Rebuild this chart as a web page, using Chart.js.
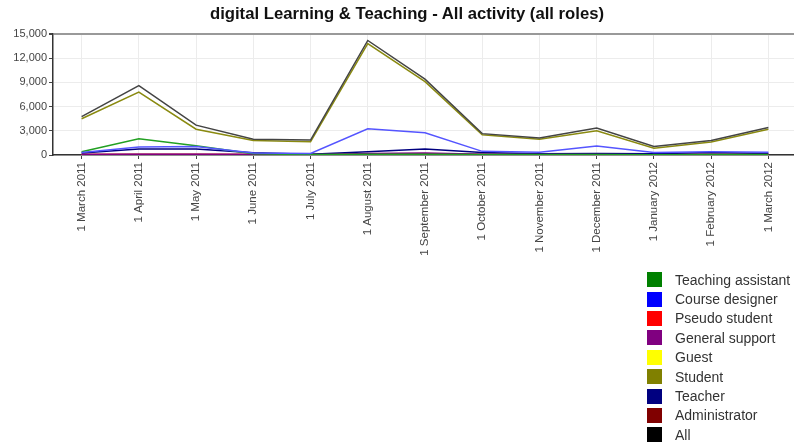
<!DOCTYPE html>
<html>
<head>
<meta charset="utf-8">
<script src="https://cdn.jsdelivr.net/npm/chart.js@4"></script>
<style>
  html, body { margin: 0; padding: 0; background: #fff; }
  #wrap { position: relative; width: 794px; height: 443px; overflow: hidden; }
  #title { position: absolute; left: 0; top: 4px; width: 814px; line-height: 20px; text-align: center;
           font: bold 16.7px "Liberation Sans", Arial, sans-serif; color: #111; white-space: nowrap; }
  #legend { position: absolute; left: 647px; top: 270px; font: 14px "Liberation Sans", Arial, sans-serif; color: #333; white-space: nowrap; }
  #legend div { height: 19.4px; display: flex; align-items: center; }
  #legend span.box { width: 15px; height: 15px; margin-right: 13px; display: inline-block; }
</style>
</head>
<body>
<div id="wrap">
  <canvas id="activity-chart" width="814" height="443"></canvas>
  <div id="title">digital Learning &amp; Teaching - All activity (all roles)</div>
  <div id="legend"></div>
</div>
<script>
const months = ['1 March 2011', '1 April 2011', '1 May 2011', '1 June 2011', '1 July 2011',
  '1 August 2011', '1 September 2011', '1 October 2011', '1 November 2011',
  '1 December 2011', '1 January 2012', '1 February 2012', '1 March 2012'];

const teachingAssistant = [400, 2000, 1150, 150, 50, 80, 80, 50, 50, 50, 30, 50, 50];
const courseDesigner    = [300, 1000, 1050, 250, 200, 3250, 2750, 450, 350, 1100, 300, 400, 350];
const pseudoStudent     = [0, 0, 0, 0, 0, 0, 0, 0, 0, 0, 0, 0, 0];
const generalSupport    = [50, 100, 100, 50, 30, 200, 250, 100, 50, 50, 30, 50, 50];
const guest             = [0, 0, 0, 0, 0, 0, 0, 0, 0, 0, 0, 0, 0];
const student           = [4500, 7800, 3200, 1800, 1650, 13800, 9100, 2500, 1950, 3000, 850, 1600, 3200];
const teacher           = [250, 750, 750, 280, 100, 400, 750, 300, 150, 200, 150, 300, 200];
const administrator     = [80, 80, 80, 80, 80, 80, 80, 80, 80, 80, 80, 80, 80];
const allActivity       = [4750, 8600, 3700, 1950, 1850, 14200, 9400, 2650, 2100, 3350, 1050, 1800, 3400];

const yTicks = [0, 3000, 6000, 9000, 12000, 15000];

function line(label, data, color, order) {
  return {
    label: label,
    data: data,
    borderColor: color,
    backgroundColor: color,
    borderWidth: 1.5,
    pointRadius: 0,
    tension: 0,
    order: order
  };
}

const ctx = document.getElementById('activity-chart').getContext('2d');

const activityChart = new Chart(ctx, {
  type: 'line',
  data: {
    labels: months,
    datasets: [
      line('Teaching assistant', teachingAssistant, '#22a022', 3),
      line('Course designer',    courseDesigner,    '#5555ff', 2),
      line('Pseudo student',     pseudoStudent,     '#ff0000', 5),
      line('General support',    generalSupport,    '#800080', 4),
      line('Guest',              guest,             '#ffff00', 6),
      line('Student',            student,           '#8a8a10', 1),
      line('Teacher',            teacher,           '#000080', 4),
      line('Administrator',      administrator,     '#c02020', 5),
      line('All',                allActivity,       '#444444', 0)
    ]
  },
  options: {
    responsive: false,
    animation: false,
    layout: { padding: { top: 34, right: 17, bottom: 0, left: 0 } },
    plugins: {
      legend: { display: false },
      tooltip: { enabled: false },
      title: { display: false }
    },
    scales: {
      x: {
        offset: true,
        afterFit: s => { s.height = 288; },
        ticks: {
          color: '#444',
          font: { family: '"Liberation Sans", Arial, sans-serif', size: 11.5 },
          minRotation: 90, maxRotation: 90,
          autoSkip: false,
          padding: 3
        },
        grid: { color: '#ececec', tickColor: '#444', tickLength: 4 },
        border: { color: '#333', width: 1.5 }
      },
      y: {
        min: 0, max: 15000,
        afterFit: s => { s.width = 53; },
        afterBuildTicks: s => { s.ticks = yTicks.map(v => ({ value: v })); },
        ticks: {
          color: '#444',
          padding: 2,
          font: { family: '"Liberation Sans", Arial, sans-serif', size: 11 },
          callback: v => v.toLocaleString('en-US')
        },
        grid: {
          color: c => c.tick && c.tick.value === 15000 ? '#999' : '#ececec',
          lineWidth: c => c.tick && c.tick.value === 15000 ? 2 : 1,
          tickColor: '#444',
          tickLength: 4
        },
        border: { color: '#333', width: 1.5 }
      }
    }
  }
});

// legend built from the chart's own datasets
const legendEl = document.getElementById('legend');
const legendColors = ['#008000', '#0000ff', '#ff0000', '#800080', '#ffff00', '#808000', '#000080', '#800000', '#000000'];
activityChart.data.datasets.forEach((ds, i) => {
  const row = document.createElement('div');
  const box = document.createElement('span');
  box.className = 'box';
  box.style.background = legendColors[i];
  row.appendChild(box);
  row.appendChild(document.createTextNode(ds.label));
  legendEl.appendChild(row);
});
</script>
</body>
</html>
